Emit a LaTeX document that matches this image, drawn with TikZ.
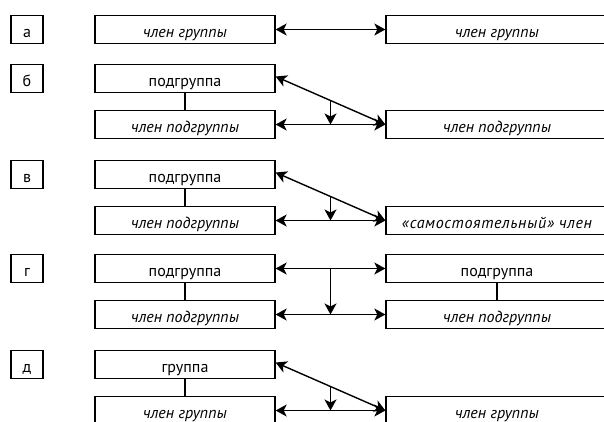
\documentclass[tikz,border=0pt]{standalone}
\usepackage{fontspec}
\setmainfont{PT Sans}
\usetikzlibrary{arrows.meta,calc}
\tikzset{
  txt/.style={font=\fontsize{16}{18}\selectfont, text height=15pt, text depth=0pt},
  box/.style={draw, line width=1.3pt, minimum height=28.5pt, inner sep=0pt, txt},
  lbox/.style={box, minimum width=180pt},
  rbox/.style={box, minimum width=222pt},
  labbox/.style={box, minimum width=32pt},
  tip/.tip={Stealth[length=11pt,width=12pt,inset=3pt]},
  dbl/.style={line width=1.4pt, {tip}-{tip}},
  one/.style={line width=1.4pt, -{tip}},
  link/.style={line width=1.3pt},
}
\begin{document}
\begin{tikzpicture}[x=1pt,y=-1pt]
\useasboundingbox (0,0) rectangle (604,421);
\clip (0,0) rectangle (604,421);
% а
\node[labbox] (aLab) at (27,29.5) {а};
\node[lbox] (aL) at (185,29.5) {\itshape член группы};
\node[rbox] (aR) at (497,29.5) {\itshape член группы};
\draw[dbl] (aL.east) -- (aR.west);
% б
\node[labbox] (bLab) at (27,78.5) {б};
\node[lbox] (bT) at (185,78.5) {подгруппа};
\node[lbox] (bB) at (185,124.5) {\itshape член подгруппы};
\node[rbox] (bR) at (497,124.5) {\itshape член подгруппы};
\draw[link] (bT) -- (bB);
\draw[dbl] (bB.east) -- (bR.west);
\draw[dbl] ([yshift=2pt]bT.east) -- (bR.west);
\coordinate (bM) at ($([yshift=2pt]bT.east)!0.5!(bR.west)$);
\draw[one] (bM) -- (bM |- bB.east);
% в
\node[labbox] (vLab) at (27,174.5) {в};
\node[lbox] (vT) at (185,174.5) {подгруппа};
\node[lbox] (vB) at (185,220.5) {\itshape член подгруппы};
\node[rbox] (vR) at (497,220.5) {\addfontfeature{LetterSpace=4}\itshape «самостоятельный» член};
\draw[link] (vT) -- (vB);
\draw[dbl] (vB.east) -- (vR.west);
\draw[dbl] ([yshift=2pt]vT.east) -- (vR.west);
\coordinate (vM) at ($([yshift=2pt]vT.east)!0.5!(vR.west)$);
\draw[one] (vM) -- (vM |- vB.east);
% г
\node[labbox] (gLab) at (27,268.5) {г};
\node[lbox] (gT) at (185,268.5) {подгруппа};
\node[lbox] (gB) at (185,314.5) {\itshape член подгруппы};
\node[rbox] (gRT) at (497,268.5) {подгруппа};
\node[rbox] (gRB) at (497,314.5) {\itshape член подгруппы};
\draw[link] (gT) -- (gB);
\draw[link] (gRT) -- (gRB);
\draw[dbl] (gT.east) -- (gRT.west);
\draw[dbl] (gB.east) -- (gRB.west);
\coordinate (gM) at ($(gT.east)!0.5!(gRT.west)$);
\draw[one] (gM) -- (gM |- gB.east);
% д
\node[labbox] (dLab) at (27,364.5) {д};
\node[lbox] (dT) at (185,364.5) {группа};
\node[lbox] (dB) at (185,410.5) {\itshape член группы};
\node[rbox] (dR) at (497,410.5) {\itshape член группы};
\draw[link] (dT) -- (dB);
\draw[dbl] (dB.east) -- (dR.west);
\draw[dbl] ([yshift=2pt]dT.east) -- (dR.west);
\coordinate (dM) at ($([yshift=2pt]dT.east)!0.5!(dR.west)$);
\draw[one] (dM) -- (dM |- dB.east);
\end{tikzpicture}
\end{document}
